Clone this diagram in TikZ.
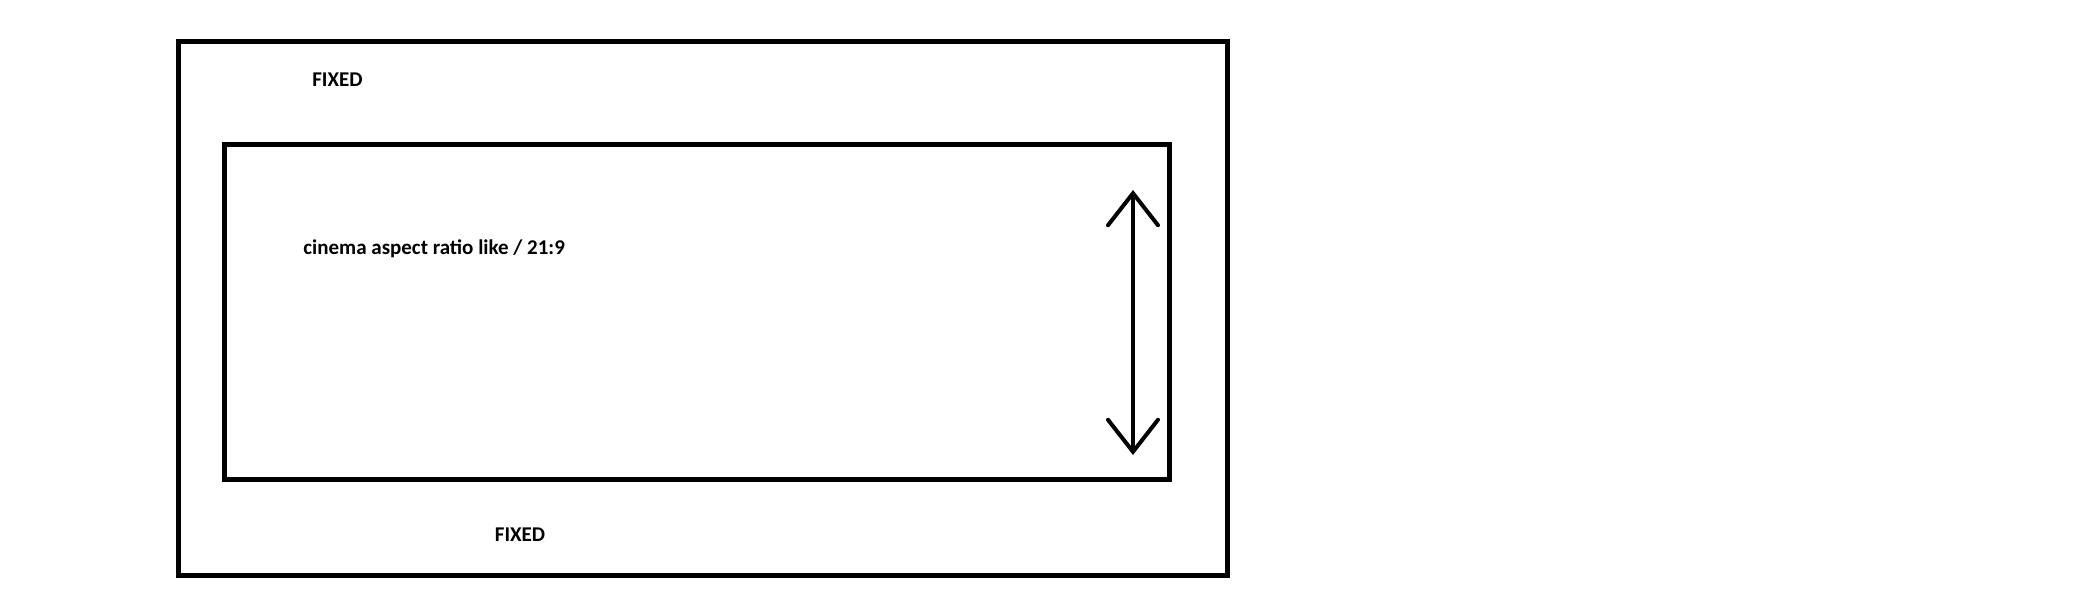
\documentclass[tikz,border=0pt]{standalone}
\usepackage{fontspec}
\setmainfont{Carlito}
\usetikzlibrary{arrows.meta,positioning}
\tikzset{
  framebox/.style={draw=black, line width=2.5pt, inner sep=0pt, outer sep=0pt},
  label/.style={font=\bfseries\fontsize{10.5pt}{12.5pt}\selectfont, inner sep=0pt},
  vtip/.style={line width=2pt, line cap=round,
    {Straight Barb[length=16pt,width=25pt,line cap=round]}-{Straight Barb[length=16pt,width=25pt,line cap=round]}}
}
\begin{document}
\begin{tikzpicture}[x=0.5pt,y=-0.5pt]
    \useasboundingbox (0,0) rectangle (2100,600);
    % Outer fixed frame
    \node[framebox, minimum width=524.25pt, minimum height=266.75pt] (outer) at (702.75,308.25) {};
    % Inner cinema frame
    \node[framebox, minimum width=472.5pt, minimum height=167.25pt] (inner) at (697,311.75) {};
    % Labels
    \node[label] (fixedtop) at (337.5,79.5) {FIXED};
    \node[label] (fixedbot) at (520,535) {FIXED};
    \node[label, anchor=base west] (ratio) at (303,254) {cinema aspect ratio like / 21:9};
    % Resize arrow
    \coordinate (arrtop) at (1133,190);
    \coordinate (arrbot) at (1133,455);
    \draw[vtip] (arrtop) -- (arrbot);
\end{tikzpicture}
\end{document}
